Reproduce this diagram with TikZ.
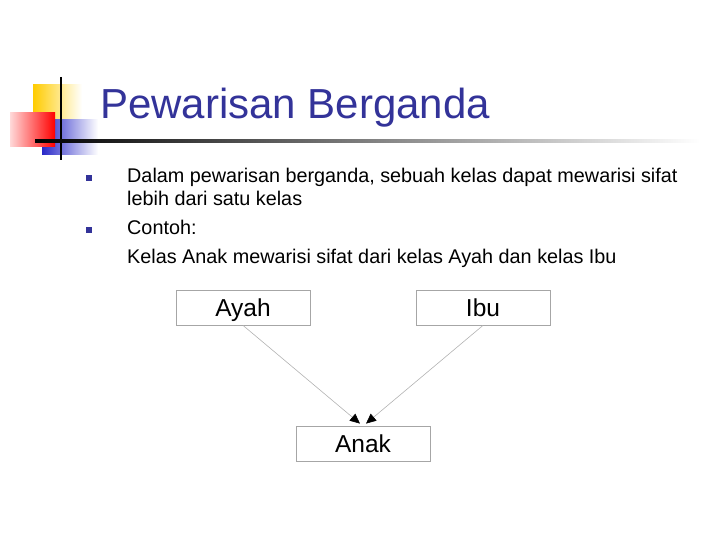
\documentclass[tikz,border=0pt]{standalone}
\usepackage{fontspec}
\setmainfont{Liberation Sans}
\usetikzlibrary{arrows.meta}
\definecolor{titleblue}{RGB}{51,51,153}
\definecolor{logoyellow}{RGB}{255,204,0}
\definecolor{logoblue}{RGB}{40,40,200}
\begin{document}
\begin{tikzpicture}[x=1pt,y=-1pt,
           class_style/.style={rectangle,draw=black!35,line width=0.8pt,minimum width=134pt,minimum height=35pt,inner sep=0pt,text height=17.5pt,text depth=0pt,font=\fontsize{24.5}{26}\selectfont},
           text_style/.style={anchor=base west,inner sep=0pt,font=\fontsize{19.8}{22}\selectfont},
           bullet_style/.style={fill=titleblue,minimum size=6pt,inner sep=0pt},
           edge_style/.style={draw=black!30,line width=0.6pt,-{Triangle[black,length=10pt,width=9pt]}}]
            \useasboundingbox (0,0) rectangle (720,540);
            % logo
            \shade[left color=logoyellow,middle color=logoyellow,right color=white] (33,85) rectangle (82,120);
            \shade[left color=logoblue,middle color=logoblue!90,right color=white] (42,120) rectangle (98,155);
            \shade[left color=red!15,right color=red] (10,113) rectangle (55,147);
            \draw[line width=2.5pt] (61,77) -- (61,160);
            \shade[left color=black,middle color=black!45,right color=white] (35,140) rectangle (700,142.5);
            % title and text
            \node[anchor=base west,inner sep=0pt,text=titleblue,font=\fontsize{42}{46}\selectfont] (title) at (100,119) {Pewarisan Berganda};
            \node[bullet_style] (b1) at (89,178) {};
            \node[bullet_style] (b2) at (89,230) {};
            \node[text_style] (t1) at (127,183) {Dalam pewarisan berganda, sebuah kelas dapat mewarisi sifat};
            \node[text_style] (t2) at (127,206) {lebih dari satu kelas};
            \node[text_style] (t3) at (127,234) {Contoh:};
            \node[text_style] (t4) at (127,263) {Kelas Anak mewarisi sifat dari kelas Ayah dan kelas Ibu};
            % classes
            \node[class_style] (ayah) at (243,307.5)  {Ayah};
            \node[class_style] (ibu) at (483,307.5)  {Ibu};
            \node[class_style] (anak) at (363,443.5)  {Anak};
            \draw[edge_style]  (ayah.south) -- ([xshift=-3pt,yshift=2pt]anak.north);
            \draw[edge_style]  (ibu.south) -- ([xshift=3pt,yshift=2pt]anak.north);
        \end{tikzpicture}
\end{document}
